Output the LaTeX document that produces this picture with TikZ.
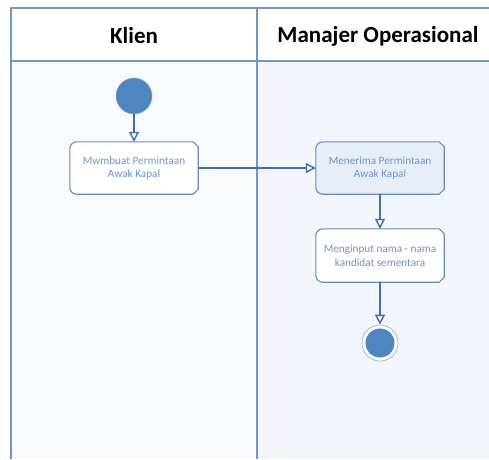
\documentclass[tikz,border=0pt]{standalone}
\usepackage{fontspec}
\setmainfont{Carlito}
\usetikzlibrary{arrows.meta,calc}
\definecolor{frameblue}{HTML}{7097C8}
\definecolor{lineblue}{HTML}{3F6FA8}
\definecolor{nodeblue}{HTML}{4F86BF}
\definecolor{txtblue}{HTML}{6A95CB}
\definecolor{laneL}{HTML}{F8FAFD}
\definecolor{laneR}{HTML}{F2F5FA}
\definecolor{boxfillB}{HTML}{E8EEF7}
\tikzset{
  x=1pt, y=-1pt,
  frameline/.style={draw=frameblue, line width=1.2pt},
  hdr/.style={font=\fontsize{23}{26}\selectfont\bfseries, text=black},
  acttext/.style={font=\fontsize{11.2}{13.5}\selectfont, text=txtblue, align=center,
     minimum width=128pt, minimum height=52pt, inner sep=0pt},
  flow/.style={draw=lineblue, line width=1.7pt, -{Triangle[open,length=10pt,width=10pt,line width=1.4pt]}},
  boxline/.style={draw=lineblue!80, line width=1.1pt},
}
\newcommand{\actshape}[2]{%
  \path[boxline, fill=#2, rounded corners=7pt]
    ($(#1.north west)!0.5!(#1.north east)$)
    [sharp corners] -- ([xshift=-5pt]#1.north east) -- ([yshift=-5pt]#1.north east)
    -- ([yshift=5pt]#1.south east) -- ([xshift=-5pt]#1.south east)
    [rounded corners=7pt] -- (#1.south west) -- (#1.north west) -- cycle;}
\begin{document}
\begin{tikzpicture}
\useasboundingbox (0,0) rectangle (489,459);
\fill[white] (0,0) rectangle (489,459);
% lanes
\fill[laneL] (11,61) rectangle (257,459);
\fill[laneR] (257,61) rectangle (489,459);
\fill[white] (11,8) rectangle (489,61);
\draw[frameline] (489,8) -- (11,8) -- (11,459);
\draw[frameline] (11,61) -- (489,61);
\draw[frameline] (257,8) -- (257,459);
% headers
\node[hdr] (hk) at (134,36) {Klien};
\node[hdr] (hm) at (378,36) {Manajer Operasional};
% start
\node[circle, fill=nodeblue, draw=nodeblue!70, line width=0.6pt, minimum size=36pt, inner sep=0pt] (start) at (134,96) {};
% activities
\node[acttext] (a1) at (134,168) {};
\actshape{a1}{white}
\node[acttext] (t1) at (134,168) {Mwmbuat Permintaan\\Awak Kapal};
\node[acttext] (a2) at (380,168) {};
\actshape{a2}{boxfillB}
\node[acttext] (t2) at (380,168) {Menerima Permintaan\\Awak Kapal};
\node[acttext, minimum height=53pt] (a3) at (380,255.5) {};
\actshape{a3}{white}
\node[acttext] (t3) at (380,255.5) {Menginput nama - nama\\kandidat sementara};
% end
\node[circle, fill=white, draw=nodeblue!60, line width=0.7pt, minimum size=36pt, inner sep=0pt] (end) at (380,343) {};
\node[circle, fill=nodeblue, minimum size=29pt, inner sep=0pt] (endin) at (380,343) {};
% flows
\draw[flow] (start.south) -- (a1.north);
\draw[flow] (a1.east) -- (a2.west);
\draw[flow] (a2.south) -- (a3.north);
\draw[flow] (a3.south) -- (end.north);
\end{tikzpicture}
\end{document}
